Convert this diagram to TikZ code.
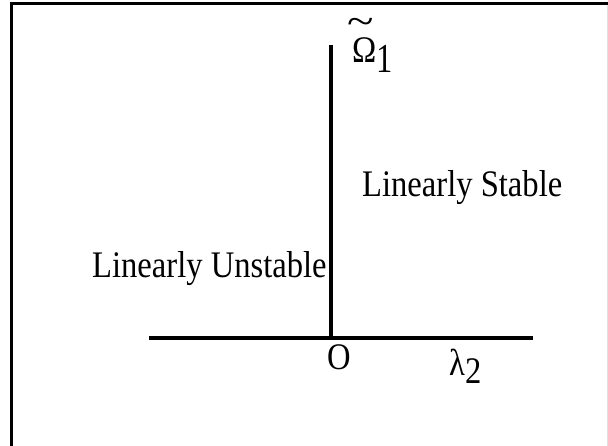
\documentclass[tikz,border=0pt]{standalone}
\usepackage{fontspec}
\setmainfont{Liberation Serif}
\begin{document}
\begin{tikzpicture}[x=1pt,y=-1pt,
  lbl/.style={inner sep=0pt, anchor=base west, font=\fontsize{32.6}{38}\selectfont},
  axisline/.style={line width=3.2pt},
  frameline/.style={line width=3.6pt}]
\useasboundingbox (0,0) rectangle (608,446);
% frame
\coordinate (ftl) at (10,3.7);
\coordinate (ftr) at (608,3.7);
\coordinate (flt) at (11.5,2);
\coordinate (flb) at (11.5,446);
\coordinate (frt) at (607,5);
\coordinate (frb) at (607,446);
\draw[frameline] (ftl) -- (ftr);
\draw[line width=3pt] (flt) -- (flb);
\draw[black!12, line width=0.8pt] (frt) -- (frb);
% axes
\coordinate (xl) at (149,338);
\coordinate (xr) at (533,338);
\coordinate (o) at (331,338);
\coordinate (yt) at (331,45);
\draw[axisline] (xl) -- (xr);
\draw[axisline] (o) -- (yt);
% labels
\node[lbl] (stable) at (362,197) {\scalebox{1}[1.15]{Linearly Stable}};
\node[lbl] (unstable) at (92,278) {\scalebox{1}[1.15]{Linearly Unstable}};
\node[lbl] (O) at (327,370) {\scalebox{1}[1.15]{O}};
\node[lbl] (lam) at (449,375) {\scalebox{1}[1.15]{λ\raisebox{-7pt}{2}}};
\node[lbl] (om) at (352,63) {\scalebox{1}[1.15]{Ω\raisebox{-8pt}{\scalebox{1}[1.1]{1}}}};
\node[lbl] (tilde) at (347,35) {\scalebox{1.5}[1.2]{\textasciitilde}};
\end{tikzpicture}
\end{document}
